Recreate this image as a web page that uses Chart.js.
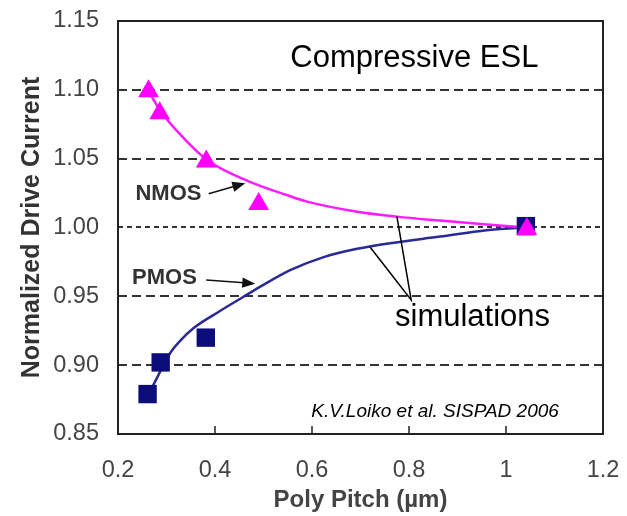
<!DOCTYPE html>
<html>
<head>
<meta charset="utf-8">
<script src="https://cdn.jsdelivr.net/npm/chart.js@4/dist/chart.umd.min.js"></script>
<style>
  body { margin: 0; background: #fff; }
  #wrap { width: 627px; height: 516px; }
</style>
</head>
<body>
<div id="wrap"><canvas id="grafico" width="627" height="516"></canvas></div>
<script>
// medidas (pontos)
const nmosMedX = [0.263, 0.286, 0.382, 0.490, 1.043];
const nmosMedY = [1.099, 1.083, 1.048, 1.017, 0.999];
const pmosMedX = [0.261, 0.288, 0.381, 1.041];
const pmosMedY = [0.879, 0.902, 0.920, 1.001];

// simulacoes (curvas)
const nmosSimX = [0.263, 0.287, 0.322, 0.384, 0.48, 0.548, 0.59, 0.693, 0.775, 0.864, 0.93, 1.022, 1.04];
const nmosSimY = [1.099, 1.085, 1.070, 1.049, 1.032, 1.0236, 1.0188, 1.0115, 1.0079, 1.005, 1.003, 1.0005, 1.0];
const pmosSimX = [0.272, 0.308, 0.329, 0.356, 0.411, 0.458, 0.4935, 0.555, 0.624, 0.693, 0.761, 0.864, 0.96, 1.04];
const pmosSimY = [0.885, 0.909, 0.918, 0.927, 0.9395, 0.9495, 0.957, 0.969, 0.9785, 0.9845, 0.9886, 0.9934, 0.998, 1.0];

// eixos
const xTicks = [0.2, 0.4, 0.6, 0.8, 1.0, 1.2];
const yTicks = [0.85, 0.90, 0.95, 1.00, 1.05, 1.10, 1.15];

const fonte = 'Liberation Sans, Arial, sans-serif';

function pares(xs, ys) {
  return xs.map((x, i) => ({ x: x, y: ys[i] }));
}

function seta(ctx, x1, y1, x2, y2) {
  const ang = Math.atan2(y2 - y1, x2 - x1);
  const tam = 14;
  ctx.beginPath();
  ctx.moveTo(x1, y1);
  ctx.lineTo(x2 - Math.cos(ang) * tam * 0.8, y2 - Math.sin(ang) * tam * 0.8);
  ctx.stroke();
  ctx.beginPath();
  ctx.moveTo(x2, y2);
  ctx.lineTo(x2 - tam * Math.cos(ang - 0.38), y2 - tam * Math.sin(ang - 0.38));
  ctx.lineTo(x2 - tam * Math.cos(ang + 0.38), y2 - tam * Math.sin(ang + 0.38));
  ctx.closePath();
  ctx.fill();
}

// moldura, ticks internos e textos
const anotacoes = {
  id: 'anotacoes',
  afterDatasetsDraw(chart) {
    const ctx = chart.ctx;
    const a = chart.chartArea;
    const sx = chart.scales.x;
    const sy = chart.scales.y;
    const px = v => sx.getPixelForValue(v);
    const py = v => sy.getPixelForValue(v);

    ctx.save();
    ctx.strokeStyle = '#222';
    ctx.lineWidth = 2;
    ctx.strokeRect(a.left, a.top, a.right - a.left, a.bottom - a.top);

    // ticks do eixo x para dentro
    ctx.lineWidth = 1.5;
    xTicks.slice(1, -1).forEach(t => {
      ctx.beginPath();
      ctx.moveTo(px(t), a.bottom);
      ctx.lineTo(px(t), a.bottom - 8);
      ctx.stroke();
    });

    ctx.fillStyle = '#000';
    ctx.font = '31px ' + fonte;
    ctx.textBaseline = 'alphabetic';
    ctx.textAlign = 'center';
    ctx.fillText('Compressive ESL', px(0.811), py(1.1168));
    ctx.fillText('simulations', px(0.931), py(0.9285));

    ctx.font = 'italic 19px ' + fonte;
    ctx.textAlign = 'right';
    ctx.fillText('K.V.Loiko et al. SISPAD 2006', px(1.109), py(0.8626));

    // linhas apontando as simulacoes
    ctx.strokeStyle = '#000';
    ctx.lineWidth = 1.5;
    ctx.beginPath();
    ctx.moveTo(px(0.775), py(1.008));
    ctx.lineTo(px(0.8045), py(0.9474));
    ctx.lineTo(px(0.72), py(0.9857));
    ctx.stroke();

    ctx.fillStyle = '#333';
    ctx.font = 'bold 22px ' + fonte;
    ctx.textAlign = 'left';
    ctx.fillText('NMOS', px(0.236), py(1.02));
    ctx.fillText('PMOS', px(0.229), py(0.959));

    ctx.fillStyle = '#111';
    ctx.strokeStyle = '#111';
    ctx.lineWidth = 1.5;
    seta(ctx, px(0.387), py(1.0245), px(0.4625), py(1.0322));
    seta(ctx, px(0.382), py(0.9619), px(0.483), py(0.9592));
    ctx.restore();
  }
};

const config = {
  type: 'scatter',
  data: {
    datasets: [{
      label: 'NMOS',
      data: pares(nmosMedX, nmosMedY),
      pointStyle: 'triangle',
      pointRadius: 12,
      backgroundColor: '#ff00ff',
      borderColor: '#ff00ff',
      borderWidth: 0
    }, {
      label: 'PMOS',
      data: pares(pmosMedX, pmosMedY),
      pointStyle: 'rect',
      pointRadius: 13,
      backgroundColor: '#0c0c7a',
      borderColor: '#0c0c7a',
      borderWidth: 0
    }, {
      label: 'NMOS sim',
      type: 'line',
      data: pares(nmosSimX, nmosSimY),
      borderColor: '#ff1aff',
      borderWidth: 2.5,
      pointRadius: 0,
      cubicInterpolationMode: 'monotone'
    }, {
      label: 'PMOS sim',
      type: 'line',
      data: pares(pmosSimX, pmosSimY),
      borderColor: '#2a2a96',
      borderWidth: 2.5,
      pointRadius: 0,
      cubicInterpolationMode: 'monotone'
    }]
  },
  options: {
    responsive: false,
    animation: false,
    events: [],
    layout: { padding: { left: 0, top: 21, right: 24, bottom: 0 } },
    plugins: { legend: { display: false }, tooltip: { enabled: false } },
    scales: {
      x: {
        type: 'linear',
        min: 0.2,
        max: 1.2,
        afterBuildTicks: s => { s.ticks = xTicks.map(v => ({ value: v })); },
        afterFit: s => { s.height = 82; s.paddingLeft = 0; s.paddingRight = 0; },
        grid: { display: false, drawTicks: false },
        border: { display: false },
        ticks: {
          padding: 22,
          color: '#444',
          font: { family: fonte, size: 23.5 },
          callback: v => String(Number(v.toFixed(1)))
        },
        title: {
          display: true,
          text: 'Poly Pitch (µm)',
          color: '#444',
          font: { family: fonte, size: 24, weight: 'bold' },
          padding: { top: 0, bottom: 1 }
        }
      },
      y: {
        type: 'linear',
        min: 0.85,
        max: 1.15,
        afterBuildTicks: s => { s.ticks = yTicks.map(v => ({ value: v })); },
        afterFit: s => { s.width = 118; s.paddingTop = 0; s.paddingBottom = 0; },
        grid: {
          drawTicks: false,
          lineWidth: 2,
          color: c => (c.tick && (c.tick.value < 0.86 || c.tick.value > 1.14)) ? 'rgba(0,0,0,0)' : '#333'
        },
        border: {
          display: false,
          dash: c => (c.tick && Math.abs(c.tick.value - 1) < 0.001) ? [5, 4] : [9, 5]
        },
        ticks: {
          padding: 19,
          color: '#444',
          font: { family: fonte, size: 23.5 },
          callback: v => v.toFixed(2)
        },
        title: {
          display: true,
          text: 'Normalized Drive Current',
          color: '#333',
          font: { family: fonte, size: 25, weight: 'bold' },
          padding: { top: 17, bottom: 0 }
        }
      }
    }
  },
  plugins: [anotacoes]
};

window.meuGrafico = new Chart(document.getElementById('grafico'), config);
</script>
</body>
</html>
